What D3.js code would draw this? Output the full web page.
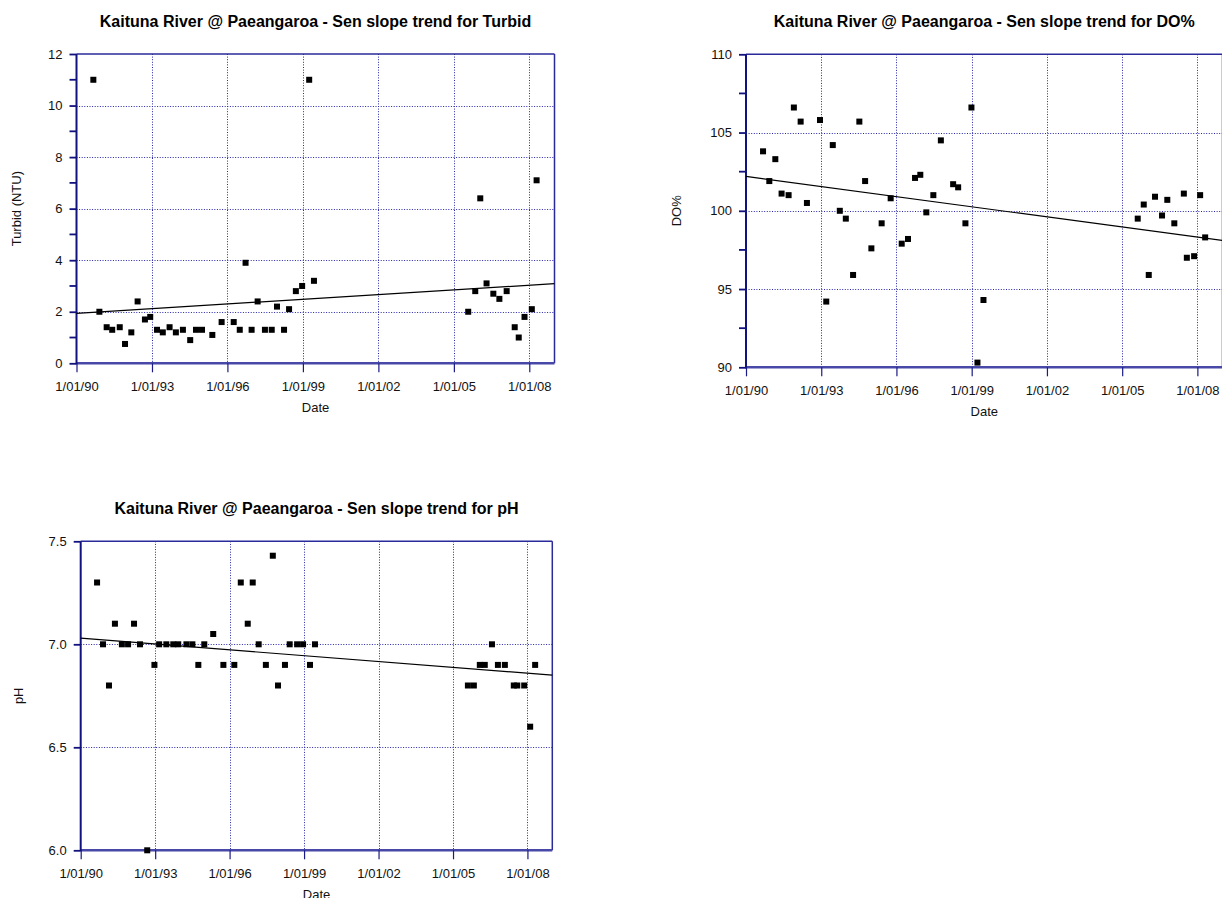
<!DOCTYPE html>
<html>
<head>
<meta charset="utf-8">
<script src="https://cdn.jsdelivr.net/npm/d3@7"></script>
<style>
  html, body { margin: 0; padding: 0; background: #fff; overflow: hidden; }
  svg { display: block; font-family: "Liberation Sans", Arial, sans-serif; }
</style>
</head>
<body>
<svg id="chart" width="1222" height="898"></svg>
<script>
// Sample dates are decimal years; values are the measured parameter.
const turbidDates = [1990.67, 1990.91, 1991.20, 1991.42, 1991.72, 1991.93, 1992.18, 1992.43, 1992.72, 1992.93,
  1993.20, 1993.43, 1993.70, 1993.95, 1994.23, 1994.52, 1994.75, 1994.99, 1995.40, 1995.77,
  1996.25, 1996.49, 1996.72, 1996.96, 1997.20, 1997.49, 1997.76, 1997.97, 1998.25, 1998.45,
  1998.72, 1998.97, 1999.25, 1999.44,
  2005.57, 2005.85, 2006.05, 2006.30, 2006.57, 2006.81, 2007.10, 2007.42, 2007.58, 2007.81, 2008.10, 2008.29];
const turbidValues = [11, 2.0, 1.4, 1.3, 1.4, 0.75, 1.2, 2.4, 1.7, 1.8,
  1.3, 1.2, 1.4, 1.2, 1.3, 0.9, 1.3, 1.3, 1.1, 1.6,
  1.6, 1.3, 3.9, 1.3, 2.4, 1.3, 1.3, 2.2, 1.3, 2.1,
  2.8, 3.0, 11, 3.2,
  2.0, 2.8, 6.4, 3.1, 2.7, 2.5, 2.8, 1.4, 1.0, 1.8, 2.1, 7.1];
const turbidTrend = [1.94, 3.09];

const doDates = [1990.68, 1990.93, 1991.17, 1991.42, 1991.70, 1991.91, 1992.18, 1992.43, 1992.95, 1993.20,
  1993.46, 1993.74, 1993.98, 1994.27, 1994.52, 1994.75, 1995.00, 1995.41, 1995.77, 1996.21,
  1996.46, 1996.74, 1996.95, 1997.19, 1997.47, 1997.77, 1998.26, 1998.46, 1998.75, 1998.99,
  1999.23, 1999.47,
  2005.62, 2005.86, 2006.06, 2006.31, 2006.59, 2006.80, 2007.08, 2007.46, 2007.58, 2007.87, 2008.11, 2008.31];
const doValues = [103.8, 101.9, 103.3, 101.1, 101.0, 106.6, 105.7, 100.5, 105.8, 94.2,
  104.2, 100.0, 99.5, 95.9, 105.7, 101.9, 97.6, 99.2, 100.8, 97.9,
  98.2, 102.1, 102.3, 99.9, 101.0, 104.5, 101.7, 101.5, 99.2, 106.6,
  90.3, 94.3,
  99.5, 100.4, 95.9, 100.9, 99.7, 100.7, 99.2, 101.1, 97.0, 97.1, 101.0, 98.3];
const doTrend = [102.2, 98.1];

const phDates = [1990.66, 1990.90, 1991.14, 1991.38, 1991.66, 1991.91, 1992.15, 1992.39, 1992.68, 1992.97,
  1993.16, 1993.45, 1993.73, 1993.93, 1994.26, 1994.50, 1994.74, 1994.98, 1995.34, 1995.75,
  1996.19, 1996.45, 1996.73, 1996.93, 1997.17, 1997.46, 1997.74, 1997.95, 1998.23, 1998.42,
  1998.72, 1998.96, 1999.24, 1999.44,
  2005.60, 2005.84, 2006.08, 2006.28, 2006.57, 2006.81, 2007.09, 2007.45, 2007.59, 2007.87, 2008.11, 2008.31];
const phValues = [7.3, 7.0, 6.8, 7.1, 7.0, 7.0, 7.1, 7.0, 6.0, 6.9,
  7.0, 7.0, 7.0, 7.0, 7.0, 7.0, 6.9, 7.0, 7.05, 6.9,
  6.9, 7.3, 7.1, 7.3, 7.0, 6.9, 7.43, 6.8, 6.9, 7.0,
  7.0, 7.0, 6.9, 7.0,
  6.8, 6.8, 6.9, 6.9, 7.0, 6.9, 6.9, 6.8, 6.8, 6.8, 6.6, 6.9];
const phTrend = [7.03, 6.85];

const dateStart = "1990-01-01";
const dateEnd = "2009-01-01";
const xTickDates = ["1990-01-01", "1993-01-01", "1996-01-01", "1999-01-01", "2002-01-01", "2005-01-01", "2008-01-01"];

const turbidTicks = [0, 2, 4, 6, 8, 10, 12];
const turbidMinorTicks = [1, 3, 5, 7, 9, 11];
const doTicks = [90, 95, 100, 105, 110];
const doMinorTicks = [92.5, 97.5, 102.5, 107.5];
const phTicks = [6.0, 6.5, 7.0, 7.5];

const site = "Kaituna River @ Paeangaroa";

function yearToDate(y) {
  const yr = Math.floor(y);
  const a = Date.UTC(yr, 0, 1), b = Date.UTC(yr + 1, 0, 1);
  return new Date(a + (y - yr) * (b - a));
}

const svg = d3.select("#chart");
const tickFmt = d3.utcFormat("%-d/%m/%y");

function panel(o) {
  const g = svg.append("g");
  const x = d3.scaleUtc().domain([new Date(dateStart), new Date(dateEnd)]).range([o.left, o.right]);
  const y = d3.scaleLinear().domain(o.domain).range([o.bottom, o.top]);
  const ticks = xTickDates.map(d => new Date(d));

  // dotted grid
  const grid = g.append("g").attr("stroke", "#2626a6").attr("stroke-width", 1).attr("stroke-dasharray", "1,1.6");
  grid.selectAll("line.v").data(ticks.slice(1)).join("line")
    .attr("x1", d => Math.round(x(d)) + 0.5).attr("x2", d => Math.round(x(d)) + 0.5)
    .attr("y1", o.top).attr("y2", o.bottom);
  grid.selectAll("line.h").data(o.ticks.slice(1, -1)).join("line")
    .attr("x1", o.left).attr("x2", o.right)
    .attr("y1", d => Math.round(y(d)) + 0.5).attr("y2", d => Math.round(y(d)) + 0.5);

  // frame
  g.append("line").attr("x1", o.left).attr("x2", o.right).attr("y1", o.top).attr("y2", o.top)
    .attr("stroke", "#2a2a9a").attr("stroke-width", 1.5);
  g.append("line").attr("x1", o.right).attr("x2", o.right).attr("y1", o.top).attr("y2", o.bottom)
    .attr("stroke", "#2a2a9a").attr("stroke-width", 1.5);
  g.append("line").attr("x1", o.left).attr("x2", o.right).attr("y1", o.bottom).attr("y2", o.bottom)
    .attr("stroke", "#4848a8").attr("stroke-width", 2.5);
  g.append("line").attr("x1", o.left).attr("x2", o.left).attr("y1", o.top).attr("y2", o.bottom + 1)
    .attr("stroke", "#12127f").attr("stroke-width", 2);

  // x axis
  const xa = g.append("g").attr("transform", `translate(0,${o.bottom})`)
    .call(d3.axisBottom(x).tickValues(ticks).tickFormat(tickFmt).tickSize(9).tickPadding(9));
  xa.select(".domain").remove();
  xa.selectAll(".tick line").attr("stroke", "#1a1a88").attr("stroke-width", 1.2);
  xa.selectAll("text").attr("font-size", 13).attr("fill", "#111").attr("font-family", "Liberation Sans, Arial, sans-serif");

  // y axis
  const ya = g.append("g").attr("transform", `translate(${o.left},0)`)
    .call(d3.axisLeft(y).tickValues(o.ticks).tickFormat(d3.format(o.fmt)).tickSize(7).tickPadding(7));
  ya.select(".domain").remove();
  ya.selectAll(".tick line").attr("stroke", "#12127f").attr("stroke-width", 1.8);
  ya.selectAll("text").attr("font-size", 13).attr("fill", "#111").attr("font-family", "Liberation Sans, Arial, sans-serif");
  if (o.minor) {
    g.append("g").selectAll("line").data(o.minor).join("line")
      .attr("x1", o.left - 7).attr("x2", o.left)
      .attr("y1", d => y(d)).attr("y2", d => y(d))
      .attr("stroke", "#12127f").attr("stroke-width", 1.8);
  }

  // Sen slope trend line
  g.append("line")
    .attr("x1", x(new Date(dateStart))).attr("y1", y(o.trend[0]))
    .attr("x2", x(new Date(dateEnd))).attr("y2", y(o.trend[1]))
    .attr("stroke", "#000").attr("stroke-width", 1.2);

  // samples
  const s = 6;
  g.append("g").selectAll("rect").data(o.dates.map((d, i) => [yearToDate(d), o.values[i]])).join("rect")
    .attr("x", d => x(d[0]) - s / 2).attr("y", d => y(d[1]) - s / 2)
    .attr("width", s).attr("height", s).attr("fill", "#000");

  // titles
  g.append("text").attr("x", (o.left + o.right) / 2).attr("y", o.titleY)
    .attr("text-anchor", "middle").attr("font-size", 16).attr("font-weight", "bold").attr("fill", "#000")
    .text(`${site} - Sen slope trend for ${o.name}`);
  g.append("text").attr("x", (o.left + o.right) / 2).attr("y", o.bottom + 49)
    .attr("text-anchor", "middle").attr("font-size", 13).attr("fill", "#111").text("Date");
  g.append("text").attr("transform", `translate(${o.yLabelX},${(o.top + o.bottom) / 2}) rotate(-90)`)
    .attr("text-anchor", "middle").attr("font-size", 13).attr("fill", "#111").text(o.yLabel);
}

panel({ name: "Turbid", yLabel: "Turbid (NTU)", dates: turbidDates, values: turbidValues, trend: turbidTrend,
  domain: [0, 12], ticks: turbidTicks, minor: turbidMinorTicks, fmt: "d",
  left: 76.5, right: 554.5, top: 54, bottom: 363.3, titleY: 27, yLabelX: 21 });

panel({ name: "DO%", yLabel: "DO%", dates: doDates, values: doValues, trend: doTrend,
  domain: [90, 110], ticks: doTicks, minor: doMinorTicks, fmt: "d",
  left: 746, right: 1222.5, top: 54.3, bottom: 367.3, titleY: 27, yLabelX: 681 });

panel({ name: "pH", yLabel: "pH", dates: phDates, values: phValues, trend: phTrend,
  domain: [6.0, 7.5], ticks: phTicks, minor: null, fmt: ".1f",
  left: 80.7, right: 552.3, top: 541.3, bottom: 850.3, titleY: 514, yLabelX: 23 });
</script>
</body>
</html>
